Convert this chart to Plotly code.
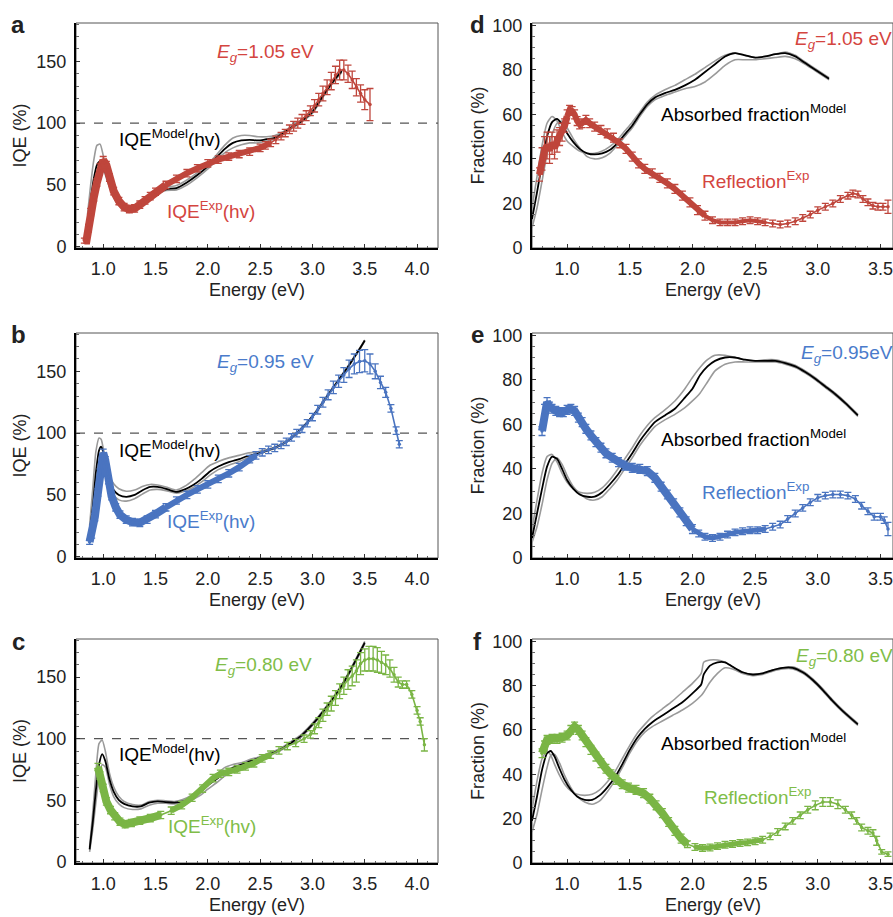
import numpy as np
import plotly.graph_objects as go

# ---------------- data ----------------
# Panel a : IQE, Eg = 1.05 eV
a_exp_x = [0.82, 0.84, 0.86, 0.88, 0.91, 0.94, 0.97, 1.00, 1.03, 1.06, 1.10, 1.15, 1.20, 1.25, 1.30, 1.35, 1.40, 1.45, 1.50,
           1.60, 1.70, 1.80, 1.90, 2.00, 2.10, 2.20, 2.30, 2.40, 2.50, 2.55, 2.60, 2.65, 2.70, 2.74, 2.78, 2.82, 2.86, 2.90,
           2.94, 2.98, 3.02, 3.06, 3.10, 3.14, 3.18, 3.22, 3.26, 3.30, 3.34, 3.38, 3.42, 3.46, 3.50, 3.55]
a_exp_y = [5, 5, 15, 28, 40, 52, 64, 70, 66, 56, 45, 37, 32, 30.5, 31, 34, 37.5, 41, 44.5,
           50, 55, 59.5, 63.5, 67.5, 70.5, 73, 75, 77, 80, 82, 84, 86.5, 89.5, 92, 95, 97.5, 100, 103,
           106, 110, 114, 119, 124, 129, 134, 139, 143, 143, 140, 135, 129, 124, 119, 115]
a_exp_err = [2, 2, 3, 3, 3, 3, 3, 3, 3, 3, 3, 3, 3, 3, 3, 3, 3, 3, 3,
             3, 3, 3, 3, 3, 3, 3, 3, 3, 3, 3, 3, 3, 3, 3, 3.5, 4, 4, 4,
             4, 4, 5, 5, 6, 6, 7, 7, 8, 8, 7, 7, 7, 7, 8, 13]
a_mod_x = [0.85, 0.88, 0.91, 0.94, 0.97, 1.00, 1.04, 1.08, 1.12, 1.17, 1.22, 1.27, 1.32, 1.40, 1.50, 1.60, 1.70, 1.80,
           1.90, 2.00, 2.08, 2.16, 2.24, 2.32, 2.40, 2.48, 2.56, 2.64, 2.72, 2.80, 2.90, 3.00, 3.10, 3.20, 3.28]
a_mod_y = [20, 38, 55, 66, 69, 66, 55, 45, 38, 33, 31, 31, 33, 37.5, 43, 46.5, 47.5, 52,
           58, 65, 72, 79, 84, 86, 86.5, 86, 87, 88, 92, 96.5, 102, 109, 122, 134, 142]
a_mod_hi = [26, 50, 70, 82, 83, 74, 58, 46, 39, 34, 32, 32, 34, 38.5, 44, 48, 49.5, 54,
            60, 67, 74, 82, 88, 90, 90, 89, 89, 90, 93, 97.5, 103, 110, 123, 135, 143]
a_mod_lo = [16, 30, 45, 56, 61, 62, 53, 44, 37, 32, 30, 30, 32, 37, 42, 45.5, 46, 50,
            56, 63, 70, 76, 80, 82.5, 84, 84, 85.5, 87, 91, 95.5, 101, 108, 121, 133, 141]

# Panel b : IQE, Eg = 0.95 eV
b_exp_x = [0.87, 0.89, 0.92, 0.95, 0.97, 1.00, 1.02, 1.05, 1.08, 1.12, 1.16, 1.22, 1.28, 1.35, 1.42, 1.50, 1.60, 1.70,
           1.80, 1.90, 2.00, 2.10, 2.20, 2.30, 2.40, 2.46, 2.52, 2.58, 2.64, 2.70, 2.75, 2.80, 2.85, 2.90, 2.95, 3.00,
           3.05, 3.10, 3.15, 3.20, 3.25, 3.30, 3.35, 3.40, 3.45, 3.50, 3.55, 3.60, 3.65, 3.70, 3.75, 3.80, 3.83]
b_exp_y = [12, 18, 32, 52, 68, 84, 78, 62, 49, 40, 34, 30, 28, 27.5, 30, 34.5, 40, 45.5,
           50, 54.5, 58.5, 63, 67.5, 72.5, 79, 82, 84.5, 86.5, 88, 90.5, 93, 96.5, 100, 103.5, 108, 113,
           119, 125, 131, 137, 142, 147, 152, 156, 158, 158.5, 156, 150, 141, 133, 120, 102, 91]
b_exp_err = [2, 3, 3, 3, 3, 3, 3, 3, 3, 3, 3, 3, 3, 3, 3, 3, 3, 3,
             3, 3, 3, 3, 3, 3, 3, 3, 3, 3, 3, 3, 3, 3, 3, 3, 3, 3,
             3.5, 4, 4, 5, 5, 6, 7, 8, 9, 9, 8, 6, 5, 4, 3, 3, 3]
b_mod_x = [0.87, 0.90, 0.93, 0.96, 0.98, 1.00, 1.03, 1.06, 1.10, 1.15, 1.22, 1.30, 1.38, 1.45, 1.52, 1.60, 1.70, 1.78,
           1.86, 1.94, 2.02, 2.10, 2.20, 2.30, 2.38, 2.46, 2.55, 2.65, 2.75, 2.85, 2.95, 3.05, 3.15, 3.25, 3.35, 3.45, 3.50]
b_mod_y = [19, 40, 68, 86, 89, 85, 72, 62, 54, 50, 48.5, 50, 54, 56.5, 56.5, 55, 52.5, 54.5,
           58, 63, 69, 73, 76.5, 79, 81.5, 83, 85.5, 88.5, 93, 100, 108.5, 119, 131, 143, 155, 168, 175]
b_mod_hi = [25, 55, 85, 96, 95, 88, 76, 66, 59, 55, 53, 54, 57, 58.5, 58, 56.5, 54, 57,
            62, 68, 74, 77, 80, 82, 84, 84.5, 86.5, 89, 93.5, 100.5, 109, 119.5, 131.5, 143.5, 155.5, 168.5, 175.5]
b_mod_lo = [15, 30, 55, 75, 84, 84, 70, 58, 50, 46, 45, 47, 51, 54, 54.5, 53.5, 51.5, 53,
            56, 60.5, 66, 70.5, 74, 77, 80, 82, 85, 88, 92.5, 99.5, 108, 118.5, 130.5, 142.5, 154.5, 167.5, 174.5]

# Panel c : IQE, Eg = 0.80 eV
c_exp_x = [0.95, 0.97, 1.00, 1.03, 1.07, 1.11, 1.16, 1.21, 1.27, 1.35, 1.45, 1.55, 1.65, 1.75, 1.85, 1.95, 2.05, 2.12,
           2.20, 2.28, 2.36, 2.44, 2.52, 2.60, 2.68, 2.76, 2.84, 2.92, 2.98, 3.02, 3.06, 3.10, 3.14, 3.18, 3.22, 3.26,
           3.30, 3.34, 3.38, 3.42, 3.46, 3.50, 3.54, 3.58, 3.62, 3.66, 3.70, 3.74, 3.78, 3.82, 3.86, 3.90, 3.95, 4.00,
           4.03, 4.07]
c_exp_y = [77, 70, 60, 49, 42, 37, 32.5, 30.5, 31.5, 33.5, 35.5, 38, 41.5, 46, 52, 59.5, 68, 71.5,
           73, 75, 77.5, 80, 84, 87, 90.5, 94, 96.5, 100, 103.5, 108, 113, 119, 124, 128.5, 133, 138.5,
           143, 148, 151, 155, 161, 164, 165, 165, 164, 162, 160, 157, 152, 146, 144, 144, 136, 123,
           114, 95]
c_exp_err = [3, 3, 3, 3, 3, 3, 3, 3, 3, 3, 3, 3, 3, 3, 3, 3, 3, 3,
             3, 3, 3, 3, 3, 3, 3, 3, 3, 3, 3, 4, 4, 5, 5, 6, 6, 6,
             7, 8, 8, 9, 9, 9, 10, 10, 10, 9, 8, 7, 6, 4, 3, 3, 3, 3,
             3, 5]
c_mod_x = [0.87, 0.90, 0.93, 0.96, 0.99, 1.02, 1.06, 1.10, 1.15, 1.20, 1.28, 1.36, 1.44, 1.52, 1.60, 1.68, 1.76, 1.84,
           1.92, 2.00, 2.08, 2.16, 2.24, 2.32, 2.40, 2.48, 2.56, 2.64, 2.72, 2.80, 2.88, 2.96, 3.04, 3.12, 3.20, 3.28,
           3.36, 3.44, 3.50]
c_mod_y = [10, 32, 58, 79, 87.5, 82, 67, 57, 50, 47, 45, 45, 48, 49, 48.5, 48, 49, 52,
           56, 62, 67, 72.5, 76.5, 79, 81.5, 84, 86.5, 89, 92.5, 97, 101.5, 108, 115.5, 124, 133, 143,
           155, 168, 178]
c_mod_hi = [12, 40, 72, 96, 99, 90, 72, 61, 53, 49, 46.5, 46, 49, 50, 49.5, 49, 50.5, 54,
            59, 65, 71, 76.5, 79, 80.5, 83, 85, 87.5, 90, 93.5, 98, 102.5, 109, 116.5, 125, 134, 144,
            156, 169, 179]
c_mod_lo = [8, 26, 48, 68, 79, 77, 63, 53, 47, 44, 42.5, 43, 46, 47.5, 47.5, 47, 47.5, 50,
            53.5, 59, 64, 69.5, 74, 77.5, 80, 83, 85.5, 88, 91.5, 96, 100.5, 107, 114.5, 123, 132, 142,
            154, 167, 177]

# Panel d : Fraction, Eg = 1.05 eV
d_mod_x = [0.72, 0.76, 0.80, 0.84, 0.88, 0.92, 0.96, 1.00, 1.05, 1.10, 1.16, 1.22, 1.28, 1.34, 1.40, 1.46, 1.52, 1.58,
           1.64, 1.70, 1.78, 1.86, 1.94, 2.02, 2.10, 2.18, 2.26, 2.34, 2.42, 2.50, 2.58, 2.66, 2.74, 2.82, 2.90, 2.98, 3.09]
d_mod_y = [13, 25, 38, 50, 56.5, 58, 55.5, 51.5, 47.5, 44.5, 42.5, 42, 42.5, 44, 47, 51, 55, 60,
           64.5, 67.5, 69.5, 71, 73, 75.5, 79, 82.5, 86, 87.5, 86.5, 85.5, 86, 87, 87.5, 86, 83, 80, 76]
d_mod_hi = [18, 32, 46, 56, 59, 57, 52, 48, 45.5, 43.5, 42.5, 42.5, 43.5, 45.5, 48.5, 52.5, 56.5, 61,
            65.5, 68.5, 71, 73, 75.5, 78, 81, 84, 86.5, 87.5, 86.5, 85.5, 86, 87, 88, 86.5, 83.5, 80.5, 76.5]
d_mod_lo = [9, 18, 30, 42, 51, 56, 57, 54, 49, 45, 41, 40, 40.5, 42.5, 46, 50, 54, 59,
            63.5, 66.5, 68.5, 70, 71.5, 72.5, 74.5, 78, 82, 84.5, 84.5, 84.5, 85, 85.5, 86, 85, 82.5, 79.5, 75.5]
d_exp_x = [0.78, 0.80, 0.82, 0.84, 0.86, 0.88, 0.90, 0.92, 0.94, 0.96, 0.98, 1.00, 1.02, 1.04, 1.06, 1.08, 1.10, 1.12,
           1.15, 1.18, 1.22, 1.27, 1.32, 1.37, 1.42, 1.47, 1.52, 1.57, 1.62, 1.68, 1.74, 1.80, 1.86, 1.92, 1.98, 2.04,
           2.10, 2.16, 2.22, 2.28, 2.34, 2.40, 2.46, 2.52, 2.58, 2.64, 2.70, 2.76, 2.82, 2.88, 2.94, 3.00, 3.06, 3.12,
           3.18, 3.24, 3.28, 3.32, 3.36, 3.40, 3.44, 3.48, 3.52, 3.56]
d_exp_y = [33, 40, 44, 46, 44, 47, 45, 48, 50, 52, 55, 59, 62, 61.5, 60, 57, 55.5, 56,
           57.5, 56, 54.5, 53, 51.5, 49.5, 47, 44.5, 41, 38, 35.5, 33.5, 31.5, 29, 26.5, 23.5, 20.5, 17,
           14.5, 12.5, 11.5, 11.5, 11.5, 12, 12.5, 12, 11.5, 11, 10.5, 11, 12, 13.5, 15, 17, 18.5, 20,
           22, 23.5, 24.5, 24, 22, 20.5, 19, 18.5, 18.5, 18.5]
d_exp_err = [3, 5, 6, 6, 6, 5, 5, 5, 4, 4, 3, 3, 2, 2, 2, 2, 2, 2,
             2, 2, 2, 2, 2, 2, 2, 2, 2, 2, 2, 2, 2, 2, 2, 2, 2, 2,
             2, 1.5, 1.5, 1.5, 1.5, 1.5, 1.5, 1.5, 1.5, 1.5, 1.5, 1.5, 1.5, 1.5, 1.5, 1.5, 1.5, 1.5,
             1.5, 1.5, 1.5, 1.5, 1.5, 1.5, 1.5, 1.5, 1.5, 3]

# Panel e : Fraction, Eg = 0.95 eV
e_mod_x = [0.72, 0.76, 0.80, 0.84, 0.88, 0.92, 0.96, 1.00, 1.05, 1.10, 1.16, 1.22, 1.28, 1.34, 1.40, 1.46, 1.52, 1.58,
           1.64, 1.70, 1.78, 1.86, 1.94, 2.00, 2.06, 2.12, 2.18, 2.26, 2.34, 2.42, 2.50, 2.58, 2.66, 2.74, 2.82, 2.90,
           2.98, 3.06, 3.14, 3.22, 3.32]
e_mod_y = [9, 20, 31, 41, 45.5, 44.5, 40, 35, 31, 28.5, 27.5, 27.5, 29.5, 33, 37, 42, 47, 52.5,
           57, 61, 64, 67, 72, 76, 82, 86, 88.5, 90, 90, 89, 88.5, 88.5, 88.5, 87.5, 86, 83.5,
           80.5, 77, 73.5, 69.5, 64]
e_mod_hi = [13, 26, 38, 45.5, 46.5, 43, 38, 34, 31, 29.5, 29, 29.5, 31.5, 35, 39.5, 44.5, 49.5, 55,
            59.5, 63, 66.5, 70.5, 76, 81, 85.5, 89, 91, 91, 90, 89, 88.5, 89, 89, 88, 86.5, 84,
            81, 77.5, 74, 70, 64.5]
e_mod_lo = [7, 14, 24, 35, 42.5, 45, 42, 37, 32, 29, 26.5, 26, 27.5, 31, 35, 40, 45, 50.5,
            55, 59, 62, 64.5, 67.5, 70.5, 74, 79, 84, 87, 88, 88, 88, 88, 88, 87, 85.5, 83,
            80, 76.5, 73, 69, 63.5]
e_exp_x = [0.80, 0.82, 0.84, 0.86, 0.88, 0.91, 0.94, 0.97, 1.00, 1.03, 1.06, 1.09, 1.12, 1.15, 1.19, 1.23, 1.27, 1.31,
           1.36, 1.41, 1.46, 1.52, 1.58, 1.64, 1.70, 1.75, 1.80, 1.85, 1.90, 1.95, 2.00, 2.05, 2.10, 2.16, 2.22, 2.28,
           2.34, 2.40, 2.46, 2.52, 2.58, 2.64, 2.70, 2.76, 2.82, 2.88, 2.94, 3.00, 3.06, 3.12, 3.18, 3.24, 3.30, 3.35,
           3.40, 3.45, 3.50, 3.53, 3.56]
e_exp_y = [57, 66, 70, 68, 67, 66, 65.5, 65.5, 66.5, 67, 66, 63, 61, 58, 55, 52, 49.5, 47,
           45, 43, 41.5, 40.5, 40, 39, 36, 32, 28.5, 24.5, 20.5, 16.5, 13, 11, 9.5, 9, 9.5, 10.5,
           11.5, 12, 12.5, 12.5, 13, 14, 15, 17.5, 20, 22.5, 25, 27, 28, 28.5, 28.5, 28, 26.5, 23.5,
           21, 18.5, 18.5, 17, 13]
e_exp_err = [2, 3, 2, 2, 2, 2, 2, 2, 2, 2, 2, 2, 2, 2, 2, 2, 2, 2,
             2, 2, 2, 2, 2, 2, 2, 2, 2, 2, 2, 2, 2, 1.5, 1.5, 1.5, 1.5, 1.5,
             1.5, 1.5, 1.5, 1.5, 1.5, 1.5, 1.5, 1.5, 1.5, 1.5, 1.5, 1.5, 1.5, 1.5, 1.5, 1.5, 1.5, 1.5,
             1.5, 1.5, 1.5, 1.5, 3]

# Panel f : Fraction, Eg = 0.80 eV
f_mod_x = [0.72, 0.76, 0.80, 0.84, 0.87, 0.90, 0.94, 0.98, 1.03, 1.08, 1.14, 1.20, 1.26, 1.32, 1.38, 1.44, 1.50, 1.56,
           1.62, 1.68, 1.76, 1.84, 1.92, 2.00, 2.07, 2.09, 2.14, 2.20, 2.26, 2.32, 2.40, 2.48, 2.56, 2.64, 2.72, 2.80,
           2.88, 2.96, 3.04, 3.12, 3.20, 3.32]
f_mod_y = [19, 30, 42, 49.5, 50.5, 48, 42.5, 37.5, 33, 30, 28.5, 28.5, 30.5, 34, 38.5, 44.5, 51, 56.5,
           60.5, 63.5, 66.5, 69.5, 72.5, 76.5, 80.5, 85, 89, 90.5, 90.5, 88.5, 86, 85, 85.5, 87, 88, 88,
           86, 82.5, 78, 73, 68.5, 62.5]
f_mod_hi = [24, 37, 47, 50.5, 48.5, 44.5, 39.5, 35.5, 32.5, 31, 30.5, 31, 33, 36.5, 41, 47, 53, 58.5,
            62.5, 66, 69.5, 73, 77, 81, 85.5, 90.5, 91.5, 91.5, 90.5, 88.5, 86, 85, 85.5, 87, 88, 88.5,
            86.5, 83, 78.5, 73.5, 69, 63]
f_mod_lo = [14, 22, 33, 43, 48.5, 49, 45, 39.5, 34, 30, 27.5, 26.5, 28, 32, 37, 43, 49.5, 55,
            59, 61.5, 64, 66.5, 69, 72, 75.5, 77, 81.5, 85.5, 88, 87.5, 85.5, 84.5, 85, 86.5, 87.5, 87.5,
            85.5, 82, 77.5, 72.5, 68, 62]
f_exp_x = [0.80, 0.82, 0.84, 0.88, 0.92, 0.96, 1.00, 1.03, 1.06, 1.09, 1.12, 1.15, 1.19, 1.23, 1.27, 1.31, 1.35, 1.39,
           1.44, 1.49, 1.55, 1.61, 1.66, 1.71, 1.76, 1.81, 1.86, 1.91, 1.96, 2.02, 2.08, 2.14, 2.20, 2.26, 2.32, 2.38,
           2.44, 2.50, 2.56, 2.62, 2.68, 2.74, 2.80, 2.86, 2.92, 2.98, 3.04, 3.10, 3.16, 3.22, 3.27, 3.31, 3.35, 3.40,
           3.44, 3.47, 3.51, 3.56]
f_exp_y = [49.5, 53, 55.5, 56, 56, 56.5, 57.5, 60, 61.5, 60, 57.5, 54.5, 51, 48, 45, 42.5, 40, 37.5,
           35.5, 34, 33, 31.5, 29, 26, 22.5, 18.5, 14.5, 11, 8.5, 7.2, 6.8, 7, 7.6, 8.2, 8.6, 9,
           9.3, 9.8, 10.5, 12, 14, 16.5, 19, 21.5, 24, 26, 27.5, 27.5, 26.5, 24, 21.5, 19, 16, 14.5,
           13.5, 10, 5, 4]
f_exp_err = [2, 2, 2, 2, 2, 2, 2, 2, 2, 2, 2, 2, 2, 2, 2, 2, 2, 2,
             2, 2, 2, 2, 2, 2, 2, 2, 2, 2, 1.5, 1.5, 1.5, 1.5, 1.5, 1.5, 1.5, 1.5,
             1.5, 1.5, 1.5, 1.5, 1.5, 1.5, 1.5, 1.5, 1.5, 2, 2, 2, 2, 1.5, 1.5, 1.5, 1.5, 1.5,
             1.5, 2, 1, 1]

iqe_ticks = [0, 50, 100, 150]
frac_ticks = [0, 20, 40, 60, 80, 100]
e_ticks_left = [1.0, 1.5, 2.0, 2.5, 3.0, 3.5, 4.0]
e_ticks_right = [1.0, 1.5, 2.0, 2.5, 3.0, 3.5]

# ---------------- style ----------------
FONT = "Liberation Sans, Arial, Helvetica, sans-serif"
RED, RED_T = "#bf463c", "#d4453f"
BLUE, BLUE_T = "#4a74c0", "#4a7bcb"
GREEN, GREEN_T = "#7ab545", "#80bd48"
GRAY = "#9a9a9a"
W, H = 893, 917

col_dom = [[76 / W, 438 / W], [532 / W, 1.0]]
row_px = [(23, 248), (333, 558), (639, 863)]
row_dom = [[1 - b / H, 1 - t / H] for (t, b) in row_px]

fig = go.Figure()

panels = [
    dict(letter="a", r=0, c=0, kind="iqe", col=RED, colt=RED_T, eg="1.05 eV",
         mx=a_mod_x, my=a_mod_y, mhi=a_mod_hi, mlo=a_mod_lo, ex=a_exp_x, ey=a_exp_y, ee=a_exp_err,
         thick=[(0, 1.6, 8), (1.6, 2.6, 6)],
         lab_model=(1.13, 88), lab_exp=(1.59, 30), lab_eg=(2.07, 157)),
    dict(letter="d", r=0, c=1, kind="frac", col=RED, colt=RED_T, eg="1.05 eV",
         mx=d_mod_x, my=d_mod_y, mhi=d_mod_hi, mlo=d_mod_lo, ex=d_exp_x, ey=d_exp_y, ee=d_exp_err,
         thick=[(0, 1.0, 7), (1.0, 2.1, 6), (2.1, 2.6, 4)],
         lab_model=(1.73, 60.5), lab_exp=(2.06, 30.5), lab_eg=(2.80, 93.5)),
    dict(letter="b", r=1, c=0, kind="iqe", col=BLUE, colt=BLUE_T, eg="0.95 eV",
         mx=b_mod_x, my=b_mod_y, mhi=b_mod_hi, mlo=b_mod_lo, ex=b_exp_x, ey=b_exp_y, ee=b_exp_err,
         thick=[(0, 1.6, 8), (1.6, 2.5, 6)],
         lab_model=(1.13, 87), lab_exp=(1.59, 29.5), lab_eg=(2.07, 157)),
    dict(letter="e", r=1, c=1, kind="frac", col=BLUE, colt=BLUE_T, eg="0.95eV",
         mx=e_mod_x, my=e_mod_y, mhi=e_mod_hi, mlo=e_mod_lo, ex=e_exp_x, ey=e_exp_y, ee=e_exp_err,
         thick=[(0, 2.0, 8), (2.0, 2.6, 5)],
         lab_model=(1.73, 54), lab_exp=(2.06, 30), lab_eg=(2.85, 91.5)),
    dict(letter="c", r=2, c=0, kind="iqe", col=GREEN, colt=GREEN_T, eg="0.80 eV",
         mx=c_mod_x, my=c_mod_y, mhi=c_mod_hi, mlo=c_mod_lo, ex=c_exp_x, ey=c_exp_y, ee=c_exp_err,
         thick=[(0, 1.6, 8), (1.6, 2.6, 6)],
         lab_model=(1.13, 88), lab_exp=(1.60, 29.5), lab_eg=(2.05, 159)),
    dict(letter="f", r=2, c=1, kind="frac", col=GREEN, colt=GREEN_T, eg="0.80 eV",
         mx=f_mod_x, my=f_mod_y, mhi=f_mod_hi, mlo=f_mod_lo, ex=f_exp_x, ey=f_exp_y, ee=f_exp_err,
         thick=[(0, 2.0, 8), (2.0, 2.6, 5)],
         lab_model=(1.73, 54.5), lab_exp=(2.08, 30), lab_eg=(2.81, 93)),
]

annotations = []
shapes = []

for i, p in enumerate(panels, start=1):
    xa = "x" if i == 1 else f"x{i}"
    ya = "y" if i == 1 else f"y{i}"
    xkey = "xaxis" if i == 1 else f"xaxis{i}"
    ykey = "yaxis" if i == 1 else f"yaxis{i}"
    iqe = p["kind"] == "iqe"

    # model curves (grey bounds, black centre)
    for yy, colr, w in ((p["mhi"], GRAY, 1.6), (p["mlo"], GRAY, 1.6), (p["my"], "black", 1.8)):
        fig.add_trace(go.Scatter(x=p["mx"], y=yy, xaxis=xa, yaxis=ya, mode="lines",
                                 line=dict(color=colr, width=w, shape="spline", smoothing=0.6),
                                 hoverinfo="skip", showlegend=False))

    # experimental data: thick dense part + error bars
    ex = np.array(p["ex"]); ey = np.array(p["ey"])
    for (x0, x1, w) in p["thick"]:
        m = (ex >= x0) & (ex <= x1)
        fig.add_trace(go.Scatter(x=ex[m], y=ey[m], xaxis=xa, yaxis=ya, mode="lines",
                                 line=dict(color=p["col"], width=w), hoverinfo="skip", showlegend=False))
    fig.add_trace(go.Scatter(x=p["ex"], y=p["ey"], xaxis=xa, yaxis=ya, mode="lines+markers",
                             line=dict(color=p["col"], width=1.6),
                             marker=dict(color=p["col"], size=3.5),
                             error_y=dict(type="data", array=p["ee"], color=p["col"], thickness=1.3, width=3.5),
                             showlegend=False))

    xr = [0.74, 4.2] if p["c"] == 0 else [0.72, 3.6]
    yr = [-1, 181] if iqe else [0, 101]
    tv = e_ticks_left if p["c"] == 0 else e_ticks_right
    fig.layout[xkey] = dict(domain=col_dom[p["c"]], anchor=ya, range=xr,
                            tickvals=tv, ticktext=[f"{v:.1f}" for v in tv],
                            ticks="inside", ticklen=4, tickwidth=1, tickcolor="#333",
                            minor=dict(ticks="inside", ticklen=2.5, dtick=0.1, tickcolor="#666"),
                            showline=True, linecolor="black", linewidth=2, mirror=False,
                            showgrid=False, zeroline=False, ticklabelstandoff=3, automargin=False,
                            tickfont=dict(family=FONT, size=18, color="#222"))
    fig.layout[ykey] = dict(domain=row_dom[p["r"]], anchor=xa, range=yr,
                            tickvals=iqe_ticks if iqe else frac_ticks,
                            ticks="inside", ticklen=4, tickwidth=1, tickcolor="#333",
                            minor=dict(ticks="inside", ticklen=2.5, dtick=10 if iqe else 5, tickcolor="#666"),
                            showline=True, linecolor="black", linewidth=2, mirror=False,
                            showgrid=False, zeroline=False, ticklabelstandoff=4, automargin=False,
                            tickfont=dict(family=FONT, size=18, color="#222"))

    # thin grey frame on top/right
    shapes.append(dict(type="rect", xref=f"{xa} domain", yref=f"{ya} domain", x0=0, x1=1, y0=0, y1=1,
                       line=dict(color="#555", width=1), layer="below"))
    if iqe:
        shapes.append(dict(type="line", xref=f"{xa} domain", yref=ya, x0=0, x1=1, y0=100, y1=100,
                           line=dict(color="#555", width=1.2, dash="dash"), layer="below"))

    # in-plot labels
    if iqe:
        mtxt = "IQE<sup>Model</sup>(hv)"
        etxt = "IQE<sup>Exp</sup>(hv)"
    else:
        mtxt = "Absorbed fraction<sup>Model</sup>"
        etxt = "Reflection<sup>Exp</sup>"
    for (pos, txt, colr) in ((p["lab_model"], mtxt, "black"), (p["lab_exp"], etxt, p["colt"]),
                             (p["lab_eg"], "<i>E</i><sub><i>g</i></sub>=" + p["eg"], p["colt"])):
        annotations.append(dict(x=pos[0], y=pos[1], xref=xa, yref=ya, text=txt, showarrow=False,
                                xanchor="left", yanchor="middle", align="left",
                                font=dict(family=FONT, size=19, color=colr)))

    # panel letter and axis titles (paper coords)
    t, b = row_px[p["r"]]
    lx = 18 if p["c"] == 0 else 477
    annotations.append(dict(x=lx / W, y=1 - (t + 2) / H, xref="paper", yref="paper", text=f"<b>{p['letter']}</b>",
                            showarrow=False, xanchor="center", yanchor="middle",
                            font=dict(family=FONT, size=24, color="#222")))
    ytx = 20 if p["c"] == 0 else 478
    annotations.append(dict(x=ytx / W, y=1 - ((t + b) / 2) / H, xref="paper", yref="paper",
                            text="IQE (%)" if iqe else "Fraction (%)", textangle=-90, showarrow=False,
                            xanchor="center", yanchor="middle", font=dict(family=FONT, size=18, color="#222")))
    cx = (76 + 438) / 2 if p["c"] == 0 else (532 + 893) / 2
    annotations.append(dict(x=cx / W, y=1 - (b + 42) / H, xref="paper", yref="paper", text="Energy (eV)",
                            showarrow=False, xanchor="center", yanchor="middle",
                            font=dict(family=FONT, size=18, color="#222")))

fig.update_layout(template="none", width=W, height=H,
                  margin=dict(l=0, r=0, t=0, b=0, pad=0, autoexpand=False),
                  paper_bgcolor="white", plot_bgcolor="white",
                  annotations=annotations, shapes=shapes, showlegend=False,
                  font=dict(family=FONT))

fig.write_html("out.html", config={"displayModeBar": False},
               post_script="document.body.style.margin='0';document.body.style.overflow='hidden';")
